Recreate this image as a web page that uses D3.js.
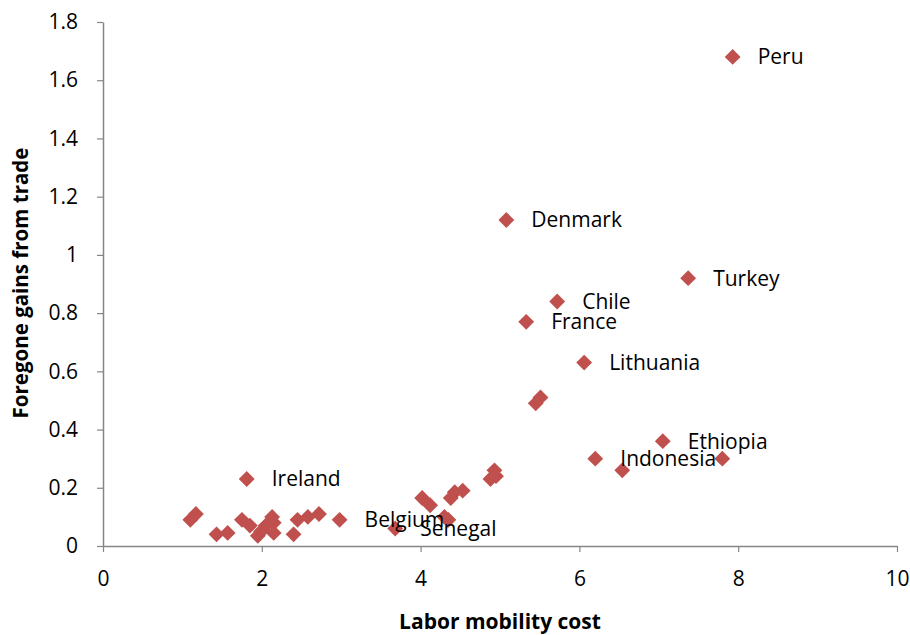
<!DOCTYPE html>
<html>
<head>
<meta charset="utf-8">
<script src="https://cdn.jsdelivr.net/npm/d3@7"></script>
<style>
  body { margin: 0; background: #fff; }
  text { font-family: "Open Sans", sans-serif; }
</style>
</head>
<body>
<svg id="chart" width="910" height="635"></svg>
<script>
// labor mobility cost (x) vs foregone gains from trade (y)
const xs = [7.93, 5.08, 7.37, 5.72, 5.33, 6.06, 7.05, 6.20, 6.54, 7.80,
  1.81, 2.98, 3.68,
  5.45, 5.51, 4.93, 4.88, 4.95,
  4.02, 4.12, 4.38, 4.43, 4.53, 4.35, 4.30,
  1.10, 1.17, 1.43, 1.57, 1.75, 1.85, 1.95, 1.99, 2.05, 2.13, 2.15, 2.15, 2.40, 2.45, 2.58, 2.72];
const ys = [1.68, 1.12, 0.92, 0.84, 0.77, 0.63, 0.36, 0.30, 0.26, 0.30,
  0.23, 0.09, 0.06,
  0.49, 0.51, 0.26, 0.23, 0.24,
  0.165, 0.14, 0.165, 0.185, 0.19, 0.09, 0.10,
  0.09, 0.11, 0.04, 0.045, 0.09, 0.07, 0.035, 0.05, 0.07, 0.10, 0.08, 0.045, 0.04, 0.09, 0.10, 0.11];
const labels = ["Peru", "Denmark", "Turkey", "Chile", "France", "Lithuania", "Ethiopia", "Indonesia", "", "",
  "Ireland", "Belgium", "Senegal"];

const xTicks = [0, 2, 4, 6, 8, 10];
const yTicks = [0, 0.2, 0.4, 0.6, 0.8, 1, 1.2, 1.4, 1.6, 1.8];

const svg = d3.select("#chart");
const x = d3.scaleLinear().domain([0, 10]).range([103, 897]);
const y = d3.scaleLinear().domain([0, 1.8]).range([546, 22]);

const axisColor = "#868686";

const xAxis = svg.append("g")
  .attr("transform", "translate(0,546)")
  .call(d3.axisBottom(x).tickValues(xTicks).tickSize(6).tickSizeOuter(0).tickPadding(19).tickFormat(d3.format("d")));
const yAxis = svg.append("g")
  .attr("transform", "translate(103,0)")
  .call(d3.axisLeft(y).tickValues(yTicks).tickSize(6).tickSizeOuter(0).tickPadding(19).tickFormat(d => d3.format("")(d)));

[xAxis, yAxis].forEach(a => {
  a.select(".domain").attr("stroke", axisColor).attr("stroke-width", 1.5);
  a.selectAll(".tick line").attr("stroke", axisColor).attr("stroke-width", 1.2);
  a.selectAll(".tick text").attr("fill", "#000").style("font-size", "21px").style("font-family", "'Open Sans', sans-serif");
});

const pts = xs.map((v, i) => ({ x: v, y: ys[i], label: labels[i] || "" }));

svg.append("g").selectAll("path")
  .data(pts)
  .join("path")
  .attr("d", d3.symbol(d3.symbolDiamond2, 160))
  .attr("transform", d => `translate(${x(d.x)},${y(d.y)})`)
  .attr("fill", "#C0504D");

svg.append("g").selectAll("text")
  .data(pts.filter(d => d.label))
  .join("text")
  .attr("x", d => x(d.x) + 25)
  .attr("y", d => y(d.y))
  .attr("dy", "0.35em")
  .style("font-size", "21px")
  .text(d => d.label);

svg.append("text")
  .attr("x", 500).attr("y", 629)
  .attr("text-anchor", "middle")
  .style("font-size", "21px").style("font-weight", "bold")
  .text("Labor mobility cost");

svg.append("text")
  .attr("transform", "translate(28,283) rotate(-90)")
  .attr("text-anchor", "middle")
  .style("font-size", "20.5px").style("font-weight", "bold")
  .text("Foregone gains from trade");
</script>
</body>
</html>
